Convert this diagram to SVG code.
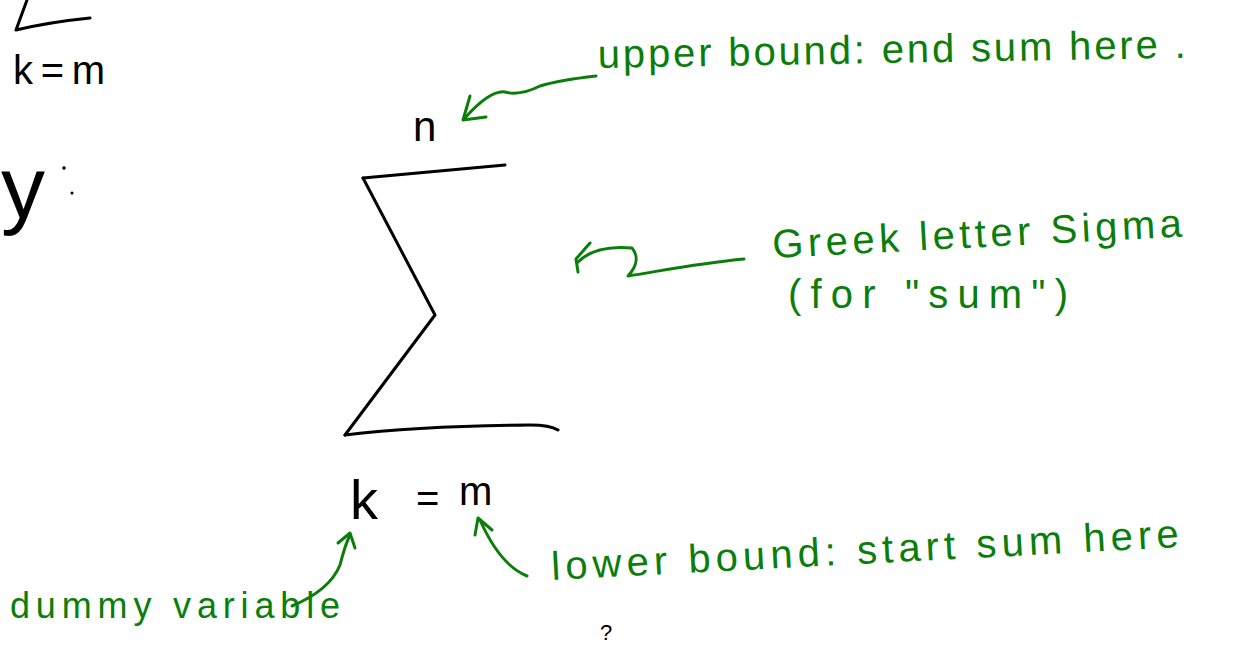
<svg xmlns="http://www.w3.org/2000/svg" width="1234" height="649" viewBox="0 0 1234 649">
<style>
.ink{fill:none;stroke:#000;stroke-width:3;stroke-linecap:round;stroke-linejoin:round}
.g{fill:none;stroke:#0b7d0b;stroke-width:3;stroke-linecap:round;stroke-linejoin:round}
.tb{font-family:"Liberation Sans",Arial,sans-serif;fill:#000}
.tg{font-family:"Liberation Sans",Arial,sans-serif;fill:#0b7d0b}
</style>
<rect width="1234" height="649" fill="#fff"/>
<g id="prev-sigma">
<path class="ink" d="M27,0 L16,30 Q50,22 90,18"/>
<text class="tb" x="13" y="84" font-size="40" textLength="92" lengthAdjust="spacing">k = m</text>
</g>
<g id="left-fragment">
<text class="tb" x="1" y="218" font-size="88">y</text>
<circle cx="64" cy="168" r="1.8" fill="#000"/>
<circle cx="72" cy="193" r="1.5" fill="#000"/>
</g>
<g id="sigma">
<path class="ink" d="M363,178 Q430,172 505,165"/>
<path class="ink" d="M363,178 L435,315 L345,435"/>
<path class="ink" d="M345,435 Q420,426 530,425 Q550,425 558,430"/>
<text class="tb" x="413" y="141" font-size="42">n</text>
<text class="tb" x="350" y="519" font-size="56">k</text>
<text class="tb" x="416" y="512" font-size="40">=</text>
<text class="tb" x="459" y="505" font-size="40">m</text>
</g>
<g id="upper-label">
<text class="tg" x="598" y="68" font-size="40" textLength="588" lengthAdjust="spacing" transform="rotate(-1 598 68)">upper bound: end sum here .</text>
</g>
<g id="sigma-label">
<text class="tg" x="773" y="258" font-size="40" textLength="410" lengthAdjust="spacing" transform="rotate(-3 773 258)">Greek letter Sigma</text>
<text class="tg" x="788" y="308" font-size="40" textLength="280" lengthAdjust="spacing">(for "sum")</text>
</g>
<g id="lower-label">
<text class="tg" x="552" y="580" font-size="40" textLength="628" lengthAdjust="spacing" transform="rotate(-3 552 580)">lower bound: start sum here</text>
</g>
<g id="dummy-label">
<text class="tg" x="10" y="618" font-size="36" textLength="330" lengthAdjust="spacing">dummy variable</text>
</g>
<g id="question">
<text class="tb" x="600" y="640" font-size="22">?</text>
</g>
<g id="connectors">
<path class="g" d="M596,76 Q560,80 540,86 Q520,96 505,92 Q490,90 465,118"/>
<path class="g" d="M470,96 L463,120 L486,117"/>
<path class="g" d="M744,259 C700,263 660,271 628,276 C638,265 638,255 632,248 C610,246 590,250 578,262"/>
<path class="g" d="M590,243 L576,259 L578,272"/>
<path class="g" d="M527,576 Q500,565 480,520"/>
<path class="g" d="M475,535 L478,518 L492,530"/>
<path class="g" d="M292,606 Q330,590 340,565 Q345,545 350,535"/>
<path class="g" d="M338,543 L350,533 L355,548"/>
</g>
</svg>
